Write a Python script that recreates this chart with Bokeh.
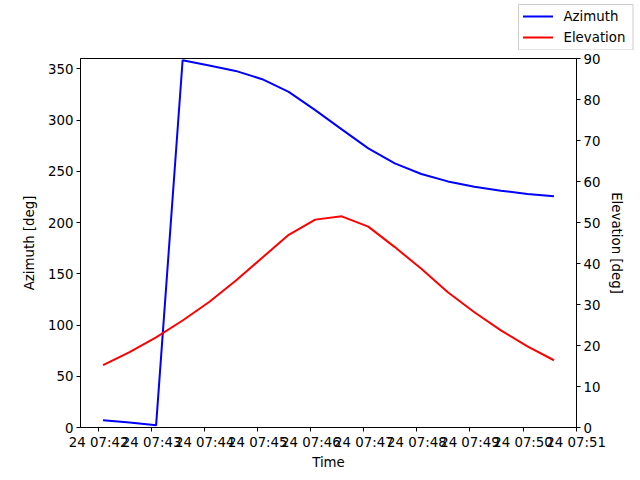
import pandas as pd
from bokeh.plotting import figure
from bokeh.layouts import column
from bokeh.core.properties import value
from bokeh.models import Range1d, LinearAxis, FixedTicker, DatetimeTickFormatter
from bokeh.embed import file_html
from bokeh.resources import INLINE

date = "2023-06-24"
times = ["07:42:05", "07:42:35", "07:43:05", "07:43:35", "07:44:05", "07:44:35",
         "07:45:05", "07:45:35", "07:46:05", "07:46:35", "07:47:05", "07:47:35",
         "07:48:05", "07:48:35", "07:49:05", "07:49:35", "07:50:05", "07:50:35"]
azimuth = [7.0, 4.8, 2.1, 358.3, 353.1, 347.9, 339.8, 327.5, 309.6, 290.8,
           272.3, 257.7, 247.3, 240.1, 234.9, 231.0, 227.8, 225.5]
elevation = [15.2, 18.4, 22.0, 26.1, 30.6, 35.8, 41.4, 47.0, 50.7, 51.5,
             49.0, 44.0, 38.7, 33.0, 28.1, 23.7, 19.8, 16.4]
series_names = ["Azimuth", "Elevation"]
series_colors = ["blue", "red"]
x_ticks = ["07:42", "07:43", "07:44", "07:45", "07:46", "07:47", "07:48",
           "07:49", "07:50", "07:51"]
az_ticks = [0, 50, 100, 150, 200, 250, 300, 350]
el_ticks = [0, 10, 20, 30, 40, 50, 60, 70, 80, 90]
az_lim = (0, 360)
el_lim = (0, 90)

t = pd.to_datetime([date + " " + s for s in times])
span = t[-1] - t[0]
x_start = t[0] - 0.05 * span
x_end = t[-1] + 0.05 * span
tick_ms = [pd.Timestamp(date + " " + s).value / 1e6 for s in x_ticks]

FONT = "DejaVu Sans"
FS = "13.33px"

# ---- main chart ----
p = figure(width=640, height=430, x_axis_type="datetime", output_backend="svg",
           toolbar_location=None, x_range=Range1d(x_start, x_end),
           y_range=Range1d(*az_lim), min_border_left=80, min_border_right=64,
           min_border_top=8, min_border_bottom=53)
p.extra_y_ranges = {"elev": Range1d(*el_lim)}
p.grid.visible = False
p.outline_line_color = "black"
p.outline_line_width = 1
p.background_fill_color = "white"
p.border_fill_color = "white"

p.line(t, azimuth, color=series_colors[0], line_width=2)
p.line(t, elevation, color=series_colors[1], line_width=2, y_range_name="elev")

right = LinearAxis(y_range_name="elev")
p.add_layout(right, "right")

fmt = "%d %H:%M"
p.xaxis.ticker = FixedTicker(ticks=tick_ms)
p.xaxis.formatter = DatetimeTickFormatter(minsec=fmt, minutes=fmt, hourmin=fmt,
                                          hours=fmt, seconds=fmt)
p.yaxis[0].ticker = FixedTicker(ticks=az_ticks)
right.ticker = FixedTicker(ticks=el_ticks)

p.xaxis.axis_label = "Time"
p.yaxis[0].axis_label = "Azimuth [deg]"
right.axis_label = "Elevation [deg]"

for ax in [p.xaxis[0], p.yaxis[0], right]:
    ax.axis_line_color = "black"
    ax.major_tick_line_color = "black"
    ax.major_tick_out = 4
    ax.major_tick_in = 0
    ax.minor_tick_out = 0
    ax.minor_tick_in = 0
    ax.major_label_standoff = 3
    ax.major_label_text_font = FONT
    ax.major_label_text_font_size = FS
    ax.major_label_text_color = "black"
    ax.axis_label_text_font = FONT
    ax.axis_label_text_font_size = FS
    ax.axis_label_text_font_style = "normal"
    ax.axis_label_text_color = "black"
    ax.axis_label_standoff = 8
p.xaxis[0].axis_label_standoff = 2
right.axis_label_standoff = 6

# ---- figure-level legend strip (upper right of the figure), 1 unit = 1 px ----
LW, LH = 640, 50
lf = figure(width=LW, height=LH, output_backend="svg", toolbar_location=None,
            x_range=Range1d(0, LW), y_range=Range1d(0, LH), min_border=0,
            x_axis_location=None, y_axis_location=None)
lf.grid.visible = False
lf.outline_line_color = None
lf.background_fill_color = "white"
lf.border_fill_color = "white"
for fig in (lf, p):
    if "frame_align" in fig.properties():
        fig.frame_align = False

box_l, box_r, box_t, box_b = 518, 632.5, LH - 4, 0.5
lf.quad(left=[box_l], right=[box_r], top=[box_t], bottom=[box_b],
        fill_color="white", fill_alpha=0.8, line_color="#cccccc", line_width=1)
row_y = [box_t - 12, box_t - 33]
lf.segment(x0=[box_l + 4.5] * 2, x1=[box_l + 34.5] * 2, y0=row_y, y1=row_y,
           line_color=series_colors, line_width=2)
lf.text(x=[box_l + 45] * 2, y=row_y, text=series_names, text_baseline="middle",
        text_align="left", text_font=value(FONT), text_font_size=FS,
        text_color="black")

layout = column(lf, p, spacing=0)
open("out.html", "w").write(file_html(layout, INLINE))
